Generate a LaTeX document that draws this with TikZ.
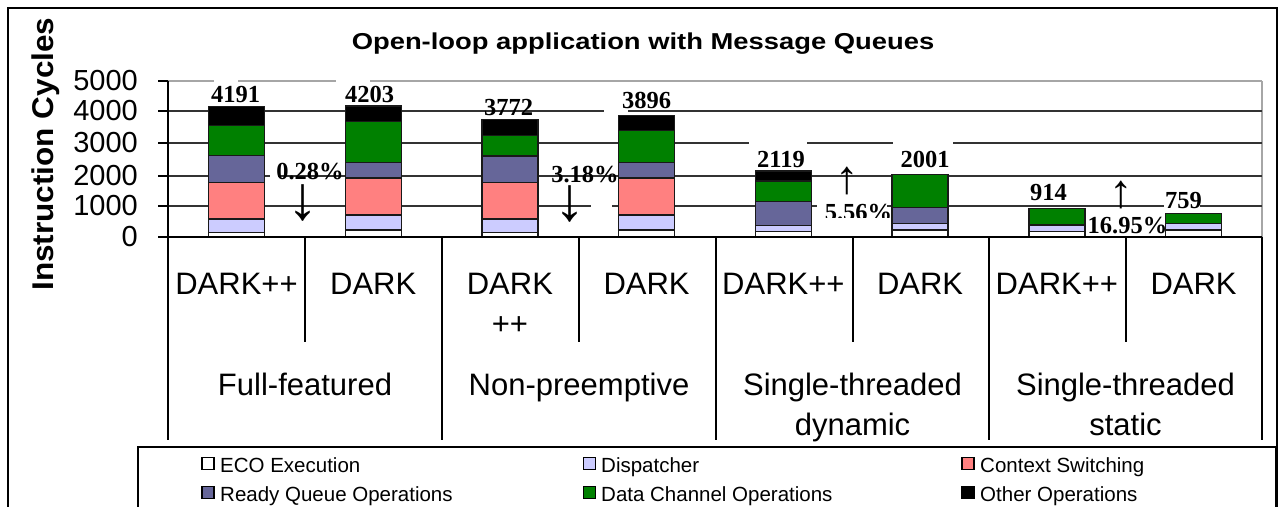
\documentclass[tikz,border=0pt]{standalone}
\usepackage{fontspec}
\usepackage{graphicx}
\setmainfont{Liberation Serif}
\newfontfamily\sansf{Liberation Sans}
\newfontfamily\serff{Liberation Serif}
\definecolor{ecoC}{HTML}{FFFFFF}
\definecolor{dispC}{HTML}{CCCCFF}
\definecolor{ctxC}{HTML}{FF8080}
\definecolor{rqC}{HTML}{666699}
\definecolor{dcC}{HTML}{008000}
\definecolor{othC}{HTML}{000000}
\newcommand\titlef{\sansf\bfseries\fontsize{23}{27}\selectfont}
\newcommand\axlabf{\sansf\bfseries\fontsize{30}{34}\selectfont}
\newcommand\tickf{\sansf\fontsize{29}{32}\selectfont}
\newcommand\catf{\sansf\fontsize{31}{40}\selectfont}
\newcommand\valf{\serff\bfseries\fontsize{24.5}{28}\selectfont}
\newcommand\legf{\sansf\fontsize{20.5}{24}\selectfont}
\newcommand\downf{\serff\fontsize{62}{64}\selectfont}
\newcommand\upf{\serff\fontsize{47}{50}\selectfont}
% two centred lines whose baseline is the first line's baseline
\newcommand\twoline[2]{\vtop{\baselineskip=40pt\halign{\hfil##\hfil\cr #1\cr #2\cr}}}
% stacked bar: #1 centre x, #2 list of lower/upper value/fill colour
\newcommand\stackbar[2]{%
  \foreach \lo/\hi/\c in {#2} {
    \draw[seg, fill=\c] ({#1-28},{237-0.0312*\lo}) rectangle ({#1+28},{237-0.0312*\hi});
  }}
\begin{document}
\begin{tikzpicture}[x=1pt,y=-1pt,
  gridl/.style={line width=1.7pt, draw=black!80},
  topl/.style={line width=1.7pt, draw=black!35},
  axisl/.style={line width=1.6pt, draw=black},
  seg/.style={draw=black!90, line width=1.3pt},
  vlab/.style={font=\valf, inner sep=0pt, anchor=base},
  arr/.style={inner sep=0pt, anchor=center},
  catlab/.style={font=\catf, inner sep=0pt, anchor=base},
  tick/.style={font=\tickf, inner sep=0pt, anchor=east},
  lsq/.style={draw=black, line width=1.2pt, minimum size=12pt, inner sep=0pt},
  ltext/.style={font=\legf, inner sep=0pt, anchor=base west}]
\useasboundingbox (0,0) rectangle (1281,506);
\fill[white] (0,0) rectangle (1281,506);

% chart frame and legend box (running past the lower edge)
\begin{scope}
  \clip (0,0) rectangle (1281,506);
  \draw[line width=2.2pt] (8,8) rectangle (1277,540);
  \draw[line width=1.8pt, fill=white] (138,447) rectangle (1276,540);
\end{scope}

% title and value axis label
\node[font=\titlef, inner sep=0pt, anchor=base] (title) at (643,49)
  {\scalebox{1.19}[1]{Open-loop application with Message Queues}};
\node[font=\axlabf, inner sep=0pt, anchor=base, rotate=90] (ylab) at (53,154)
  {\scalebox{1.05}[1]{Instruction Cycles}};

% gridlines (broken where data labels sit)
\draw[topl] (168,81) -- (214,81) (238,81) -- (336,81) (370,81) -- (1262,81);
\draw[topl] (1262,81) -- (1262,237);
\draw[gridl] (168,111) -- (604,111) (628,111) -- (1262,111);
\draw[gridl] (168,143) -- (749,143) (807,143) -- (893,143) (953,143) -- (1262,143);
\draw[gridl] (168,176) -- (270,176) (278,176) -- (1262,176);
\draw[gridl] (168,206) -- (591,206) (612,206) -- (817,206) (887,206) -- (1164,206) (1200,206) -- (1262,206);

% stacked bars: ECO, dispatcher, context switching, ready queue, data channel, other
\stackbar{236.5}{0/150/ecoC, 150/580/dispC, 580/1740/ctxC, 1740/2610/rqC, 2610/3570/dcC, 3570/4191/othC}
\stackbar{373.2}{0/224/ecoC, 224/704/dispC, 704/1890/ctxC, 1890/2390/rqC, 2390/3696/dcC, 3696/4203/othC}
\stackbar{509.9}{0/150/ecoC, 150/580/dispC, 580/1740/ctxC, 1740/2600/rqC, 2600/3260/dcC, 3260/3772/othC}
\stackbar{646.6}{0/224/ecoC, 224/704/dispC, 704/1890/ctxC, 1890/2390/rqC, 2390/3406/dcC, 3406/3896/othC}
\stackbar{783.4}{0/170/ecoC, 170/360/dispC, 360/1130/rqC, 1130/1790/dcC, 1790/2119/othC}
\stackbar{920.1}{0/224/ecoC, 224/438/dispC, 438/938/rqC, 938/2001/dcC}
\stackbar{1056.9}{0/170/ecoC, 170/360/dispC, 360/380/rqC, 380/914/dcC}
\stackbar{1193.6}{0/224/ecoC, 224/438/dispC, 438/759/dcC}

% axes, ticks and category separators
\draw[axisl] (168,81) -- (168,440);
\draw[axisl] (168,237) -- (1262,237);
\foreach \yy in {81,111,143,176,206,237} \draw[axisl] (158,\yy) -- (168,\yy);
\foreach \xx in {442,716,989,1262} \draw[axisl] (\xx,237) -- (\xx,440);
\foreach \xx in {305,579,853,1126} \draw[axisl] (\xx,237) -- (\xx,342);

% tick labels
\node[tick] (t5) at (138,81) {5000};
\node[tick] (t4) at (138,111) {4000};
\node[tick] (t3) at (138,143) {3000};
\node[tick] (t2) at (138,176) {2000};
\node[tick] (t1) at (138,206) {1000};
\node[tick] (t0) at (138,237) {0};

% category labels
\node[catlab] (c1) at (236.5,294) {DARK++};
\node[catlab] (c2) at (373.2,294) {DARK};
\node[catlab] (c3) at (509.9,294) {\twoline{DARK}{++}};
\node[catlab] (c4) at (646.6,294) {DARK};
\node[catlab] (c5) at (783.4,294) {DARK++};
\node[catlab] (c6) at (920.1,294) {DARK};
\node[catlab] (c7) at (1056.9,294) {DARK++};
\node[catlab] (c8) at (1193.6,294) {DARK};
\node[catlab] (g1) at (305,395) {Full-featured};
\node[catlab] (g2) at (579,395) {Non-preemptive};
\node[catlab] (g3) at (852.5,395) {\twoline{Single-threaded}{dynamic}};
\node[catlab] (g4) at (1125.5,395) {\twoline{Single-threaded}{static}};

% totals above the bars
\node[vlab] (v1) at (235.5,102) {4191};
\node[vlab] (v2) at (369.5,102) {4203};
\node[vlab] (v3) at (508.5,115) {3772};
\node[vlab] (v4) at (646.5,108) {3896};
\node[vlab] (v5) at (781,167) {2119};
\node[vlab] (v6) at (925,167) {2001};
\node[vlab] (v7) at (1048.5,200) {914};
\node[vlab] (v8) at (1183.5,208) {759};

% relative differences
\node[vlab] (p1) at (310,179) {0.28\%};
\node[arr, font=\downf] (a1) at (303,202.5) {↓};
\node[vlab] (p2) at (585,182) {3.18\%};
\node[arr, font=\downf] (a2) at (570,204) {↓};
\node[arr, font=\upf] (a3) at (847,181) {↑};
\begin{scope}
  \clip (800,190) rectangle (900,217.5);
  \node[vlab] (p3) at (858.5,220) {5.56\%};
\end{scope}
\node[arr, font=\upf] (a4) at (1121,194.5) {↑};
\node[vlab] (p4) at (1127.5,233) {16.95\%};

% legend
\node[lsq, fill=ecoC] (k1) at (208,463.5) {};
\node[ltext] (l1) at (220,472) {ECO Execution};
\node[lsq, fill=dispC] (k2) at (589.5,463.5) {};
\node[ltext] (l2) at (601,472) {Dispatcher};
\node[lsq, fill=ctxC] (k3) at (968,463.5) {};
\node[ltext] (l3) at (980,472) {Context Switching};
\node[lsq, fill=rqC] (k4) at (208,492.5) {};
\node[ltext] (l4) at (220,501) {Ready Queue Operations};
\node[lsq, fill=dcC] (k5) at (589.5,492.5) {};
\node[ltext] (l5) at (601,501) {Data Channel Operations};
\node[lsq, fill=othC] (k6) at (968,492.5) {};
\node[ltext] (l6) at (980,501) {Other Operations};
\end{tikzpicture}
\end{document}
